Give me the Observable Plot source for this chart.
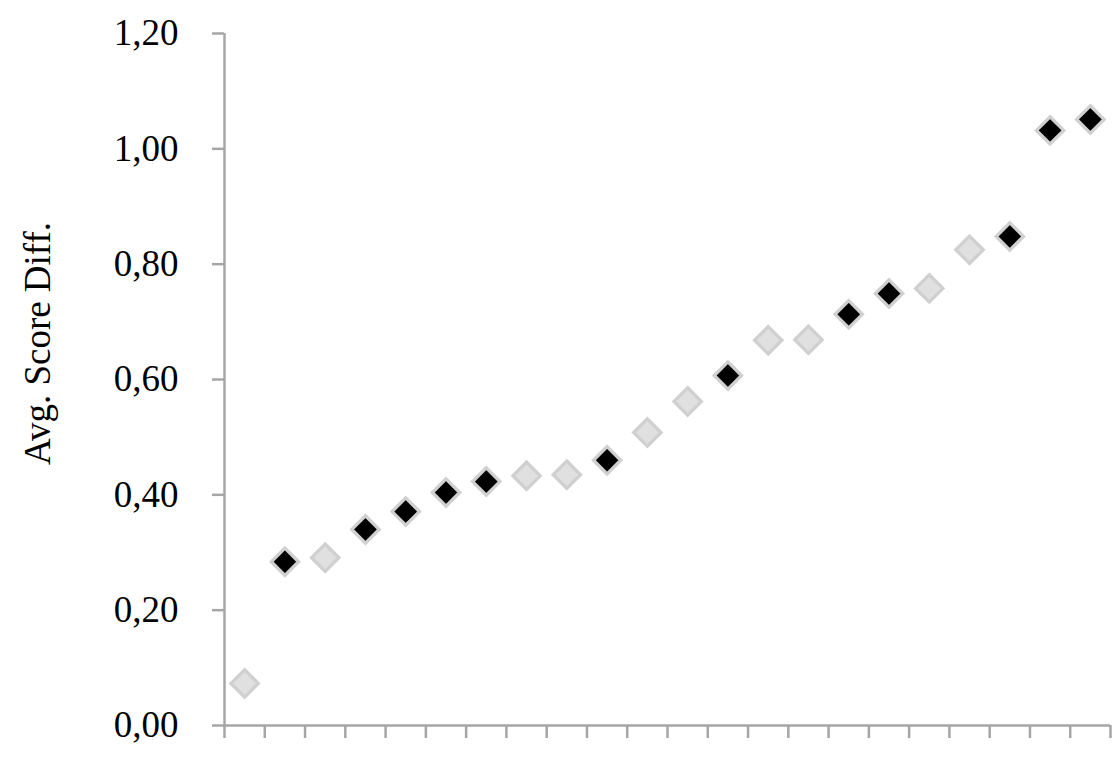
<!DOCTYPE html>
<html>
<head>
<meta charset="utf-8">
<script src="https://cdn.jsdelivr.net/npm/d3@7"></script>
<script src="https://cdn.jsdelivr.net/npm/@observablehq/plot@0.6"></script>
<style>
  html, body { margin: 0; padding: 0; background: white; }
</style>
</head>
<body>
<div id="chart"></div>
<script>
const categories = ["1","2","3","4","5","6","7","8","9","10","11","12","13","14","15","16","17","18","19","20","21","22"];
const values = [0.073, 0.284, 0.291, 0.340, 0.371, 0.404, 0.423, 0.433, 0.435, 0.460, 0.508, 0.562, 0.607, 0.668, 0.669, 0.713, 0.749, 0.758, 0.825, 0.848, 1.032, 1.051];
const groups = ["A","B","A","B","B","B","B","A","A","B","A","A","B","A","A","B","B","A","A","B","B","B"];
const groupNames = ["A", "B"];
const yTicks = [0, 0.2, 0.4, 0.6, 0.8, 1.0, 1.2];
const yLabel = "Avg. Score Diff.";

const data = categories.map((c, i) => ({cat: c, pos: i + 0.5, value: values[i], group: groups[i]}));
const boundaries = d3.range(0, categories.length + 1);

const axisColor = "#a6a6a6";

const chart = Plot.plot({
  width: 1116,
  height: 757,
  marginLeft: 224,
  marginRight: 6,
  marginTop: 33,
  marginBottom: 32,
  style: {fontFamily: "'Liberation Serif', 'Times New Roman', serif", fontSize: "37px", background: "white", color: "black"},
  x: {
    domain: [0, categories.length],
    ticks: boundaries,
    tickFormat: () => "",
    tickSize: 13,
    label: null
  },
  y: {
    domain: [0, 1.2],
    ticks: yTicks,
    tickFormat: d => d.toFixed(2).replace(".", ","),
    tickSize: 12,
    tickPadding: 34,
    label: null
  },
  color: {
    domain: groupNames,
    range: ["#e0e0e0", "#000000"]
  },
  marks: [
    Plot.ruleX([0], {stroke: axisColor, strokeWidth: 2.5}),
    Plot.ruleY([0], {stroke: axisColor, strokeWidth: 2.5}),
    Plot.text([yLabel], {
      text: d => d,
      frameAnchor: "left",
      textAnchor: "middle",
      rotate: -90,
      dx: -186,
      dy: -36,
      fill: "black",
      fontSize: 37
    }),
    Plot.dot(data, {
      x: "pos",
      y: "value",
      fill: "group",
      stroke: "#d0d0d0",
      strokeWidth: 3.3,
      symbol: "diamond2",
      r: 12.3
    })
  ]
});

document.getElementById("chart").appendChild(chart);

// style axis tick lines gray, keep labels black
d3.select(chart).selectAll('[aria-label^="x-axis"] line, [aria-label^="y-axis"] line, [aria-label^="x-axis"] path, [aria-label^="y-axis"] path')
  .attr("stroke", axisColor).attr("stroke-width", 2.5);
d3.select(chart).selectAll('[aria-label^="y-axis"] text').attr("fill", "black");
</script>
</body>
</html>
